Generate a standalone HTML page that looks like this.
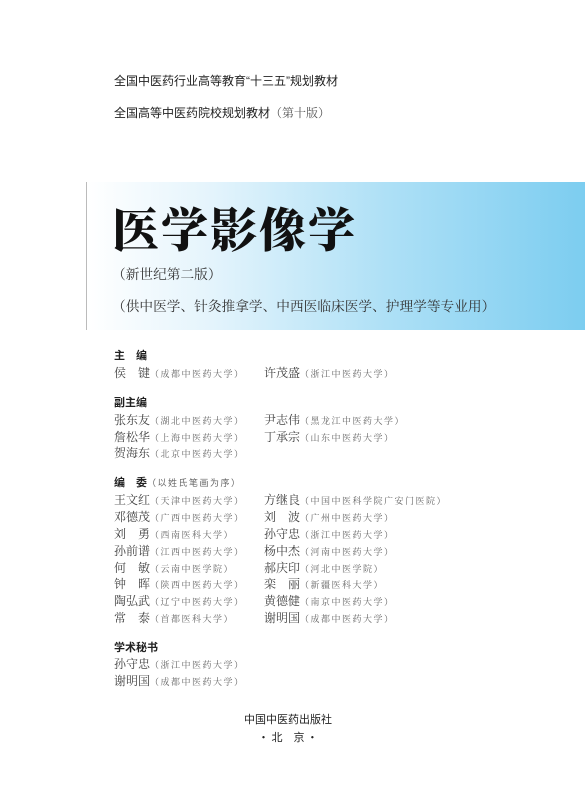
<!DOCTYPE html>
<html><head><meta charset="utf-8"><style>
body{margin:0;width:585px;height:800px;background:#fff;position:relative;overflow:hidden;font-family:"Liberation Serif","Noto Serif CJK SC",serif;color:#333}
.a{position:absolute;white-space:nowrap}
.h{font-family:"Liberation Sans","Noto Sans CJK SC",sans-serif;font-size:12px;color:#222}
.n{font-size:12px;color:#444}
.n small{font-size:9px;color:#666;letter-spacing:1.5px}
.b{font-family:"Liberation Sans","Noto Sans CJK SC",sans-serif;font-weight:bold;font-size:11px;color:#222}
</style></head><body>
<div class="a h" style="left:114px;top:72px">全国中医药行业高等教育“十三五”规划教材</div>
<div class="a h" style="left:114px;top:104px">全国高等中医药院校规划教材<span style="font-family:'Noto Serif CJK SC',serif;color:#555">（第十版）</span></div>
<div class="a" style="left:86px;top:182px;width:499px;height:148px;background:linear-gradient(to right,#ffffff 0%,#e4f4fc 25%,#aee0f6 60%,#7ccdf0 100%);border-left:1px solid #bbb"></div>
<div class="a" style="left:112px;top:194px;font-size:47px;font-weight:900;color:#111;font-family:'Noto Serif CJK SC',serif;letter-spacing:2px">医学影像学</div>
<div class="a" style="left:112px;top:263px;font-size:13.7px;color:#333;font-family:'Noto Serif CJK SC',serif">（新世纪第二版）</div>
<div class="a" style="left:112px;top:295px;font-size:13.7px;color:#333;font-family:'Noto Serif CJK SC',serif">（供中医学、针灸推拿学、中西医临床医学、护理学等专业用）</div>

<div class="a b" style="left:114px;top:347px">主　编</div>
<div class="a n" style="left:114px;top:364px">侯　键<small>（成都中医药大学）</small></div>
<div class="a n" style="left:264px;top:364px">许茂盛<small>（浙江中医药大学）</small></div>

<div class="a b" style="left:114px;top:394px">副主编</div>
<div class="a n" style="left:114px;top:411px">张东友<small>（湖北中医药大学）</small></div>
<div class="a n" style="left:264px;top:411px">尹志伟<small>（黑龙江中医药大学）</small></div>
<div class="a n" style="left:114px;top:428px">詹松华<small>（上海中医药大学）</small></div>
<div class="a n" style="left:264px;top:428px">丁承宗<small>（山东中医药大学）</small></div>
<div class="a n" style="left:114px;top:444px">贺海东<small>（北京中医药大学）</small></div>

<div class="a b" style="left:114px;top:474px">编　委<small style="font-weight:normal;font-size:9px;color:#666;letter-spacing:1.5px">（以姓氏笔画为序）</small></div>
<div class="a n" style="left:114px;top:491px">王文红<small>（天津中医药大学）</small></div>
<div class="a n" style="left:264px;top:491px">方继良<small>（中国中医科学院广安门医院）</small></div>
<div class="a n" style="left:114px;top:508px">邓德茂<small>（广西中医药大学）</small></div>
<div class="a n" style="left:264px;top:508px">刘　波<small>（广州中医药大学）</small></div>
<div class="a n" style="left:114px;top:525px">刘　勇<small>（西南医科大学）</small></div>
<div class="a n" style="left:264px;top:525px">孙守忠<small>（浙江中医药大学）</small></div>
<div class="a n" style="left:114px;top:542px">孙前谱<small>（江西中医药大学）</small></div>
<div class="a n" style="left:264px;top:542px">杨中杰<small>（河南中医药大学）</small></div>
<div class="a n" style="left:114px;top:559px">何　敏<small>（云南中医学院）</small></div>
<div class="a n" style="left:264px;top:559px">郝庆印<small>（河北中医学院）</small></div>
<div class="a n" style="left:114px;top:575px">钟　晖<small>（陕西中医药大学）</small></div>
<div class="a n" style="left:264px;top:575px">栾　丽<small>（新疆医科大学）</small></div>
<div class="a n" style="left:114px;top:592px">陶弘武<small>（辽宁中医药大学）</small></div>
<div class="a n" style="left:264px;top:592px">黄德健<small>（南京中医药大学）</small></div>
<div class="a n" style="left:114px;top:609px">常　泰<small>（首都医科大学）</small></div>
<div class="a n" style="left:264px;top:609px">谢明国<small>（成都中医药大学）</small></div>

<div class="a b" style="left:114px;top:639px">学术秘书</div>
<div class="a n" style="left:114px;top:655px">孙守忠<small>（浙江中医药大学）</small></div>
<div class="a n" style="left:114px;top:672px">谢明国<small>（成都中医药大学）</small></div>

<div class="a" style="left:244px;top:711px;font-size:11px;color:#222;font-family:'Noto Sans CJK SC',sans-serif">中国中医药出版社</div>
<div class="a" style="left:258px;top:729px;font-size:11px;color:#222;font-family:'Noto Sans CJK SC',sans-serif">· 北　京 ·</div>
</body></html>
